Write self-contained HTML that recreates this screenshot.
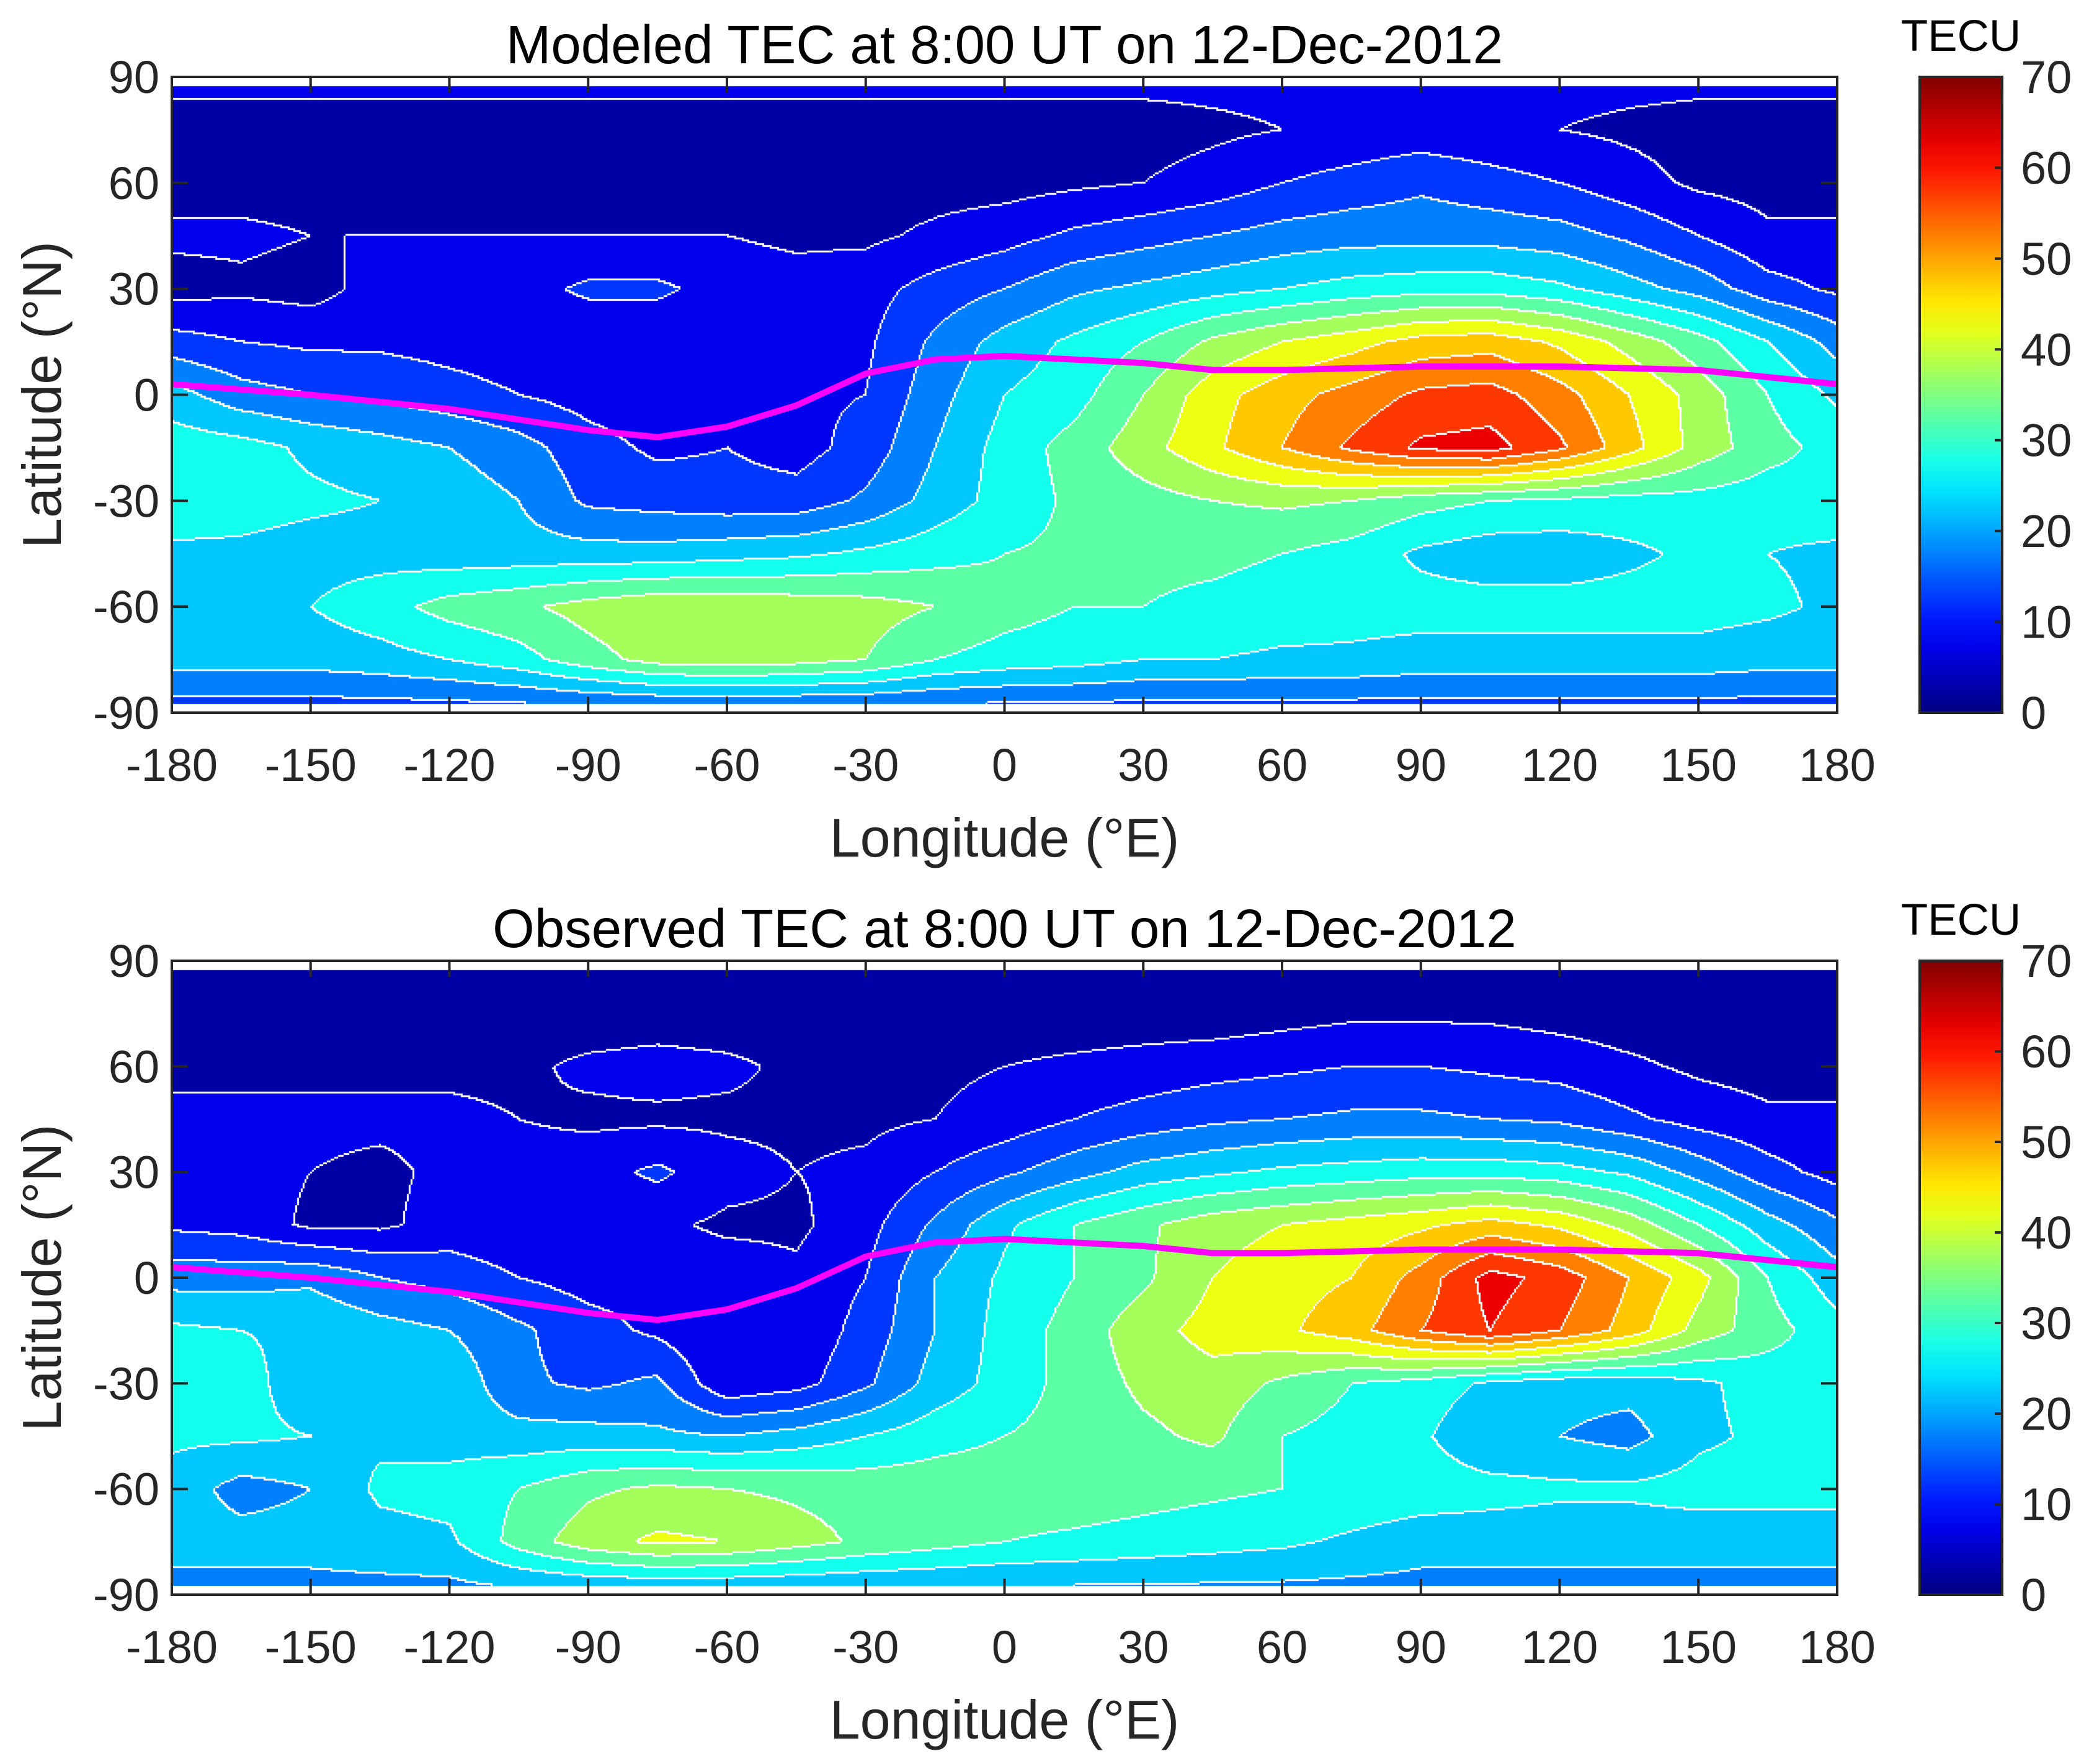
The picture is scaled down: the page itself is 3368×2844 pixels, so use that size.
<!DOCTYPE html>
<html><head><meta charset="utf-8"><style>
html,body{margin:0;padding:0;background:#fff;}
#wrap{position:relative;width:3368px;height:2844px;overflow:hidden;font-family:"Liberation Sans",sans-serif;}
canvas{position:absolute;}
svg{position:absolute;left:0;top:0;}
</style></head><body>
<div id="wrap">
<canvas id="c0"></canvas>
<canvas id="c1"></canvas>
<svg id="s" width="3368" height="2844"></svg>
</div>
<script>
// grid: rows lat 90..-90 step 15, cols lon -180..180 step 15
const lats=[90,75,60,45,30,15,0,-15,-30,-45,-60,-75,-90];
const lons=[-180,-165,-150,-135,-120,-105,-90,-75,-60,-45,-30,-15,0,15,30,45,60,75,90,105,120,135,150,165,180];
const modeled=[
[6.5,6.5,6.5,6.5,6.5,6.5,6.5,6.5,6.5,6.5,6.5,6.5,6.5,6.5,6.5,6.5,6.5,6.5,6.5,6.5,6.5,6.5,6.5,6.5,6.5],
[3,3,3,3,3,3,3,3,3,3,3,3,3,3,3,4,5,6,7,6,5,4,3,3,3],
[3,3,3,3,3,3,3,3,3,3,3,3,3,4,5,7,10,12,14,12,10,7,4,3,3],
[6,6,5,5,5,5,5,5,5,4,4,6,8,11,13,15,17,18,18,18,17,14,10,6,6],
[3,4,3,7,8,8,11,11,8,7,8,12,15,19,21,23,25,27,28,28,26,22,18,12,9],
[12,10,9,9,8,7,6,6,6,6,9,16,22,26,30,36,40,43,47,48,44,38,32,25,18],
[22,17,15,14,12,10,8,7,8,9,10,18,25,28,35,43,48,52,56,57,52,45,38,30,24],
[28,27,24,22,20,17,12,9,10,8,12,20,27,32,38,44,50,56,61,62,56,47,38,32,28],
[28,27,26,25,23,20,14,13,12,12,16,22,27,31,33,35,36,35,32,30,29,28,28,27,28],
[24,24,23,23,22,22,22,22,23,24,26,28,30,31,31,31,30,28,24,22,22,24,26,25,24],
[23,24,25,28,32,34,37,39,39,38,37,35,32,30,30,29,28,27,27,27,27,27,27,26,24],
[22,22,22,23,25,28,33,37,38,37,35,30,28,27,25,25,24,24,23,23,23,23,23,22,22],
[12,12,12,12,12,12,12,12,12,12,12,12,12,12,12,12,12,12,12,12,12,12,12,12,12]];
const observed=[
[2,2,2,2,2,2,2,2,2,2,2,2,2,2,2,2,2,2,2,2,2,2,2,2,2],
[2,2,2,2,2,2,2,2,2,2,2,2,2,2,2,2,3,4,4,4,3,2,2,2,2],
[4,4,4,4,4,4,6,7,6,4,4,4,5,6,7,8,9,10,10,9,8,6,4,3,3],
[6,6,6,6,6,5,4,4,4,4,4,5,7,10,12,14,15,16,16,15,14,11,8,6,6],
[8,7,5,4,6,7,8,11,7,5,6,10,14,18,22,24,26,27,28,28,27,24,18,12,8],
[9,8,4,4,7,6,6,6,4,4,8,16,24,30,34,38,40,42,44,47,44,38,30,22,16],
[18,18,19,15,13,10,8,8,8,6,10,20,26,30,34,40,43,45,52,62,58,50,42,30,22],
[26,25,24,22,20,16,12,9,5,6,12,20,27,32,38,42,44,48,55,60,55,48,38,32,27],
[28,27,22,20,24,16,14,16,6,8,14,22,27,32,36,38,34,30,28,24,22,22,24,27,28],
[26,26,25,24,23,22,22,21,20,22,25,28,30,32,34,36,30,28,26,20,20,18,24,26,27],
[23,18,20,26,27,30,34,36,35,34,33,33,33,33,32,31,30,29,28,27,26,26,27,27,27],
[22,22,22,23,24,32,38,41,40,37,34,32,30,29,28,27,26,24,22,22,22,22,22,22,22],
[18,18,18,18,18,18,18,18,18,18,18,18,18,18,18,18,18,18,18,18,18,18,18,18,18]];
const eqLon=[-180,-150,-120,-90,-75,-60,-45,-30,-15,0,15,30,45,60,90,120,150,165,180];
const eqLat=[3,0,-4,-10,-12,-9,-3,6,10,11,10,9,7,7,8,8,7,5,3];
const xTicks=[-180,-150,-120,-90,-60,-30,0,30,60,90,120,150,180];
const yTicks=[90,60,30,0,-30,-60,-90];
const cbTicks=[0,10,20,30,40,50,60,70];
const titles=["Modeled TEC at 8:00 UT on 12-Dec-2012","Observed TEC at 8:00 UT on 12-Dec-2012"];

const X0=277,X1=2962;
const panels=[{y0:124,y1:1149,grid:modeled},{y0:1549,y1:2571,grid:observed}];
const NS="http://www.w3.org/2000/svg";
const svg=document.getElementById('s');
function jet(t){const c=v=>Math.round(255*Math.max(0,Math.min(1,v)));
 return [c(1.5-Math.abs(4*t-3)),c(1.5-Math.abs(4*t-2)),c(1.5-Math.abs(4*t-1))];}
function bandColor(k){const [r,g,b]=jet((k+0.5)/14);return `rgb(${r},${g},${b})`;}
function el(tag,attrs,parent){const e=document.createElementNS(NS,tag);for(const k in attrs)e.setAttribute(k,attrs[k]);(parent||svg).appendChild(e);return e;}
function sample(grid,lon,lat){
 let fi=(90-lat)/15, fj=(lon+180)/15;
 let i=Math.min(11,Math.floor(fi)), j=Math.min(23,Math.floor(fj));
 let a=fi-i,b=fj-j;
 return grid[i][j]*(1-a)*(1-b)+grid[i][j+1]*(1-a)*b+grid[i+1][j]*a*(1-b)+grid[i+1][j+1]*a*b;}

panels.forEach((p,pi)=>{
 const xS=lon=>X0+(lon+180)/360*(X1-X0);
 const yS=lat=>p.y0+(90-lat)/180*(p.y1-p.y0);
 const cv=document.getElementById('c'+pi);
 const W=X1-X0,H=p.y1-p.y0;
 cv.width=W;cv.height=H;cv.style.left=X0+'px';cv.style.top=p.y0+'px';
 const ctx=cv.getContext('2d');
 ctx.fillStyle='#fff';ctx.fillRect(0,0,W,H);
 const cs=3;
 const nx=Math.ceil(W/cs),ny=Math.ceil(H/cs);
 const latTop=yS(87.5)-p.y0,latBot=yS(-87.5)-p.y0;
 const lv=[];
 for(let r=0;r<ny;r++){lv.push([]);for(let c=0;c<nx;c++){
   const px=c*cs+cs/2,py=r*cs+cs/2;
   const lon=-180+px/W*360,lat=90-py/H*180;
   if(py<latTop||py>latBot){lv[r].push(-1);continue;}
   const v=sample(p.grid,lon,lat);
   lv[r].push(Math.max(0,Math.min(13,Math.floor(v/5))));}}
 for(let r=0;r<ny;r++)for(let c=0;c<nx;c++){const k=lv[r][c];if(k<0)continue;
   ctx.fillStyle=bandColor(k);ctx.fillRect(c*cs,r*cs,cs,cs);}
 ctx.fillStyle='#fff';
 for(let r=0;r<ny;r++)for(let c=0;c<nx;c++){const k=lv[r][c];if(k<0)continue;
   if((c+1<nx&&lv[r][c+1]>=0&&lv[r][c+1]!==k)||(r+1<ny&&lv[r+1][c]>=0&&lv[r+1][c]!==k))ctx.fillRect(c*cs+1,r*cs+1,cs,cs);}
 const g=el('g',{});
 
 
 let d='';eqLon.forEach((lo,i)=>{d+=(i?'L':'M')+xS(lo).toFixed(1)+','+yS(eqLat[i]).toFixed(1);});
 el('path',{d:d,fill:'none',stroke:'#ff00ff','stroke-width':10,'stroke-linejoin':'round'},g);
 const box=el('rect',{x:X0,y:p.y0,width:W,height:H,fill:'none',stroke:'#262626','stroke-width':4});
 
 
 xTicks.forEach(t=>{const x=xS(t);
  el('line',{x1:x,x2:x,y1:p.y1,y2:p.y1-26,stroke:'#262626','stroke-width':4});
  el('line',{x1:x,x2:x,y1:p.y0,y2:p.y0+26,stroke:'#262626','stroke-width':4});
  const tx=el('text',{x:x,y:p.y1+110,'text-anchor':'middle','font-size':74,fill:'#262626'});tx.textContent=t;
  
  });
 yTicks.forEach(t=>{const y=yS(t);
  el('line',{x1:X0,x2:X0+26,y1:y,y2:y,stroke:'#262626','stroke-width':4});
  el('line',{x1:X1,x2:X1-26,y1:y,y2:y,stroke:'#262626','stroke-width':4});
  const tx=el('text',{x:X0-20,y:y+26,'text-anchor':'end','font-size':74,fill:'#262626'});tx.textContent=t;
  
  });
 const ti=el('text',{x:(X0+X1)/2,y:p.y0-22,'text-anchor':'middle','font-size':87,fill:'#000'});ti.textContent=titles[pi];
 
 
 const xl=el('text',{x:(X0+X1)/2,y:p.y1+232,'text-anchor':'middle','font-size':88,fill:'#262626'});xl.textContent='Longitude (°E)';
 
 
 const cy=(p.y0+p.y1)/2;
 const yl=el('text',{x:98,y:cy,'text-anchor':'middle','font-size':88,fill:'#262626',transform:`rotate(-90 98 ${cy})`});yl.textContent='Latitude (°N)';
 
 
 const CX0=3095,CX1=3228;
 const cb=el('g',{});
 
 
 const gid='grad'+pi;
 const defs=el('defs',{},cb);
 const lg=el('linearGradient',{id:gid,x1:0,y1:1,x2:0,y2:0},defs);
 for(let i=0;i<=20;i++){const [r,g2,b]=jet(i/20);el('stop',{offset:i/20,'stop-color':`rgb(${r},${g2},${b})`},lg);}
 el('rect',{x:CX0,y:p.y0,width:CX1-CX0,height:H,fill:`url(#${gid})`,stroke:'#262626','stroke-width':4},cb);
 const cyS=v=>p.y1-v/70*H;
 cbTicks.forEach(t=>{const y=cyS(t);
  el('line',{x1:CX1,x2:CX1-12,y1:y,y2:y,stroke:'#262626','stroke-width':4},cb);
  const tx=el('text',{x:3258,y:y+26,'font-size':74,fill:'#262626'},cb);tx.textContent=t;
  
  });
 const tl=el('text',{x:(CX0+CX1)/2,y:p.y0-42,'text-anchor':'middle','font-size':71,fill:'#000'},cb);tl.textContent='TECU';
 
 
});
</script>
</body></html>
